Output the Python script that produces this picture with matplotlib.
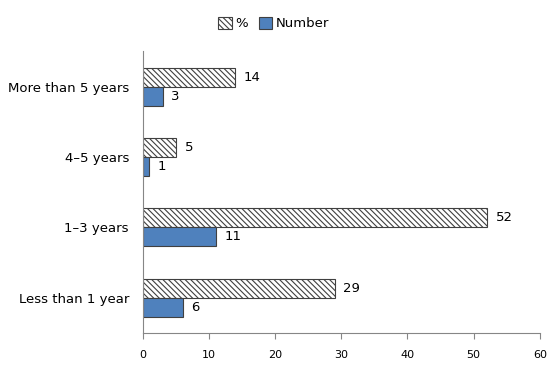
import matplotlib
matplotlib.use('Agg')
import matplotlib.pyplot as plt
import numpy as np

categories = ['Less than 1 year', '1\u20133 years', '4\u20135 years', 'More than 5 years']
pct = [29, 52, 5, 14]
number = [6, 11, 1, 3]

C_NUM = '#4F81BD'
AX_COLOR = '#868686'

plt.rcParams['hatch.color'] = '#2E4A7D'
plt.rcParams['hatch.linewidth'] = 0.8

fig = plt.figure(figsize=(5.6, 3.67), dpi=100)
ax = fig.add_axes([0.255, 0.093, 0.709, 0.767])

y = np.arange(len(categories))
h = 0.27
b1 = ax.barh(y + h/2, pct, h, color='white', edgecolor='#404040', linewidth=0.8,
             hatch='\\\\\\\\\\\\', label='%')
b2 = ax.barh(y - h/2, number, h, color=C_NUM, edgecolor='#404040', linewidth=0.8,
             label='Number')

# value labels
for bar in list(b1) + list(b2):
    ax.text(bar.get_width() + 1.3, bar.get_y() + bar.get_height()/2,
            f'{int(bar.get_width())}', va='center', ha='left', fontsize=9.5)

ax.set_xlim(0, 60)
ax.set_ylim(-0.5, len(categories) - 0.5)
ax.set_xticks(range(0, 61, 10))
ax.set_yticks(y)
ax.set_yticklabels(categories, fontsize=9.5)
ax.tick_params(axis='x', labelsize=8, length=4, color=AX_COLOR, pad=8)
ax.tick_params(axis='y', length=0, pad=10)
for s in ['top', 'right']:
    ax.spines[s].set_visible(False)
ax.spines['left'].set_color(AX_COLOR)
ax.spines['bottom'].set_color(AX_COLOR)

ax.legend(loc='upper center', bbox_to_anchor=(0.33, 1.165), ncol=2, frameon=False,
          fontsize=9.5, handlelength=1.0, handleheight=1.0, handletextpad=0.3,
          columnspacing=0.8)

fig.savefig('out.png', dpi=100)
